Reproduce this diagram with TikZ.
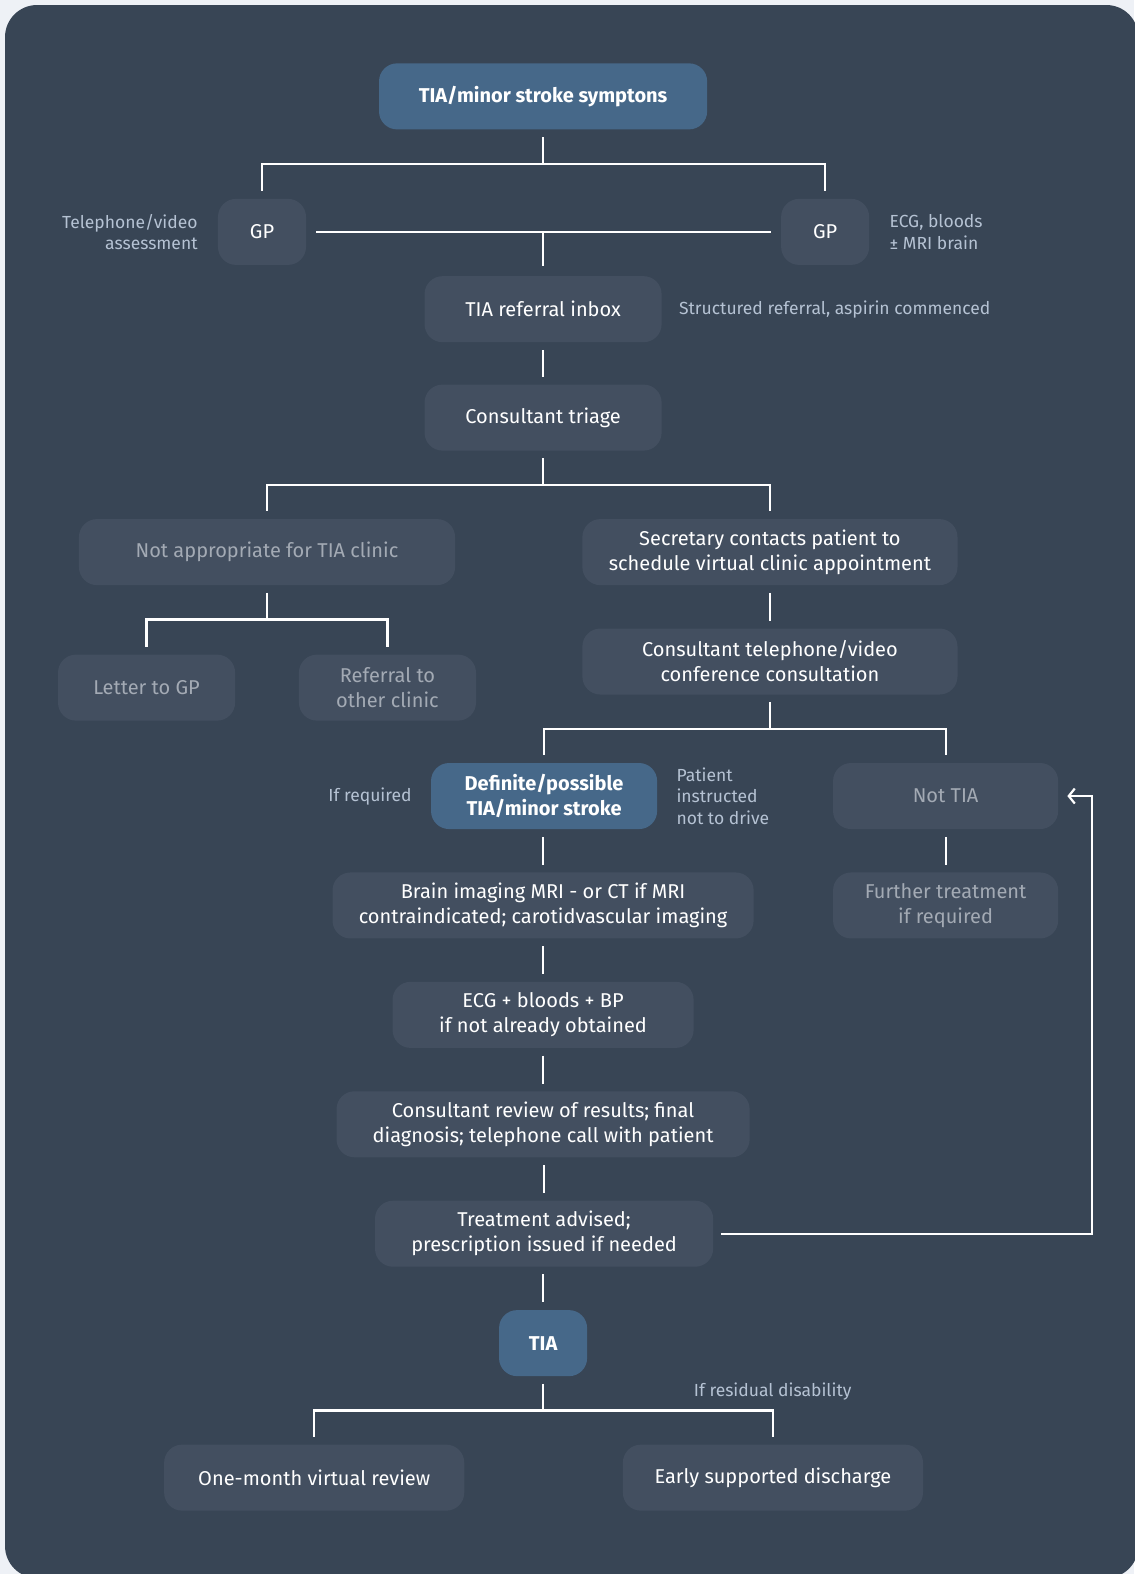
\documentclass[tikz,border=0pt]{standalone}
\usepackage{fontspec}
\setmainfont{Fira Sans}
\usetikzlibrary{arrows.meta,positioning}

\definecolor{pagebg}{HTML}{EEF1F6}
\definecolor{cardbg}{HTML}{384555}
\definecolor{boxbg}{HTML}{434F60}
\definecolor{hibg}{HTML}{466889}
\definecolor{dimtext}{HTML}{A3AAB4}
\definecolor{notetext}{HTML}{B5C2D3}

\tikzset{
  box/.style={fill=boxbg, rounded corners=18pt, text=white, align=center,
    minimum height=66pt, inner sep=0pt, font=\fontsize{20}{25}\selectfont},
  hibox/.style={box, fill=hibg, font=\fontsize{20}{25}\selectfont\bfseries},
  dimbox/.style={box, text=dimtext},
  note/.style={text=notetext, inner sep=0pt, font=\fontsize{17.5}{21.5}\selectfont},
  conn/.style={draw=white, line width=2.2pt, shorten <=7.5pt, shorten >=7.5pt},
}

\begin{document}
\begin{tikzpicture}[x=1.0035pt, y=-1.0035pt]

% Card behind everything
\useasboundingbox (0,0) rectangle (1130,1568);
\fill[pagebg] (0,0) rectangle (1130,1568);
\fill[cardbg, rounded corners=32pt] (5,5) rectangle (1134,1572);

% Boxes, top to bottom
\node[hibox, minimum width=328pt] (sym) at (541,96) {TIA/minor stroke symptons};
\node[box, minimum width=88pt] (gpL) at (261,231) {GP};
\node[box, minimum width=88pt] (gpR) at (822,231) {GP};
\node[box, minimum width=237pt] (inbox) at (541,308) {TIA referral inbox};
\node[box, minimum width=237pt] (triage) at (541,416) {Consultant triage};
\node[dimbox, minimum width=376pt] (notapp) at (266,550) {Not appropriate for TIA clinic};
\node[box, minimum width=375pt] (secr) at (767,550) {Secretary contacts patient to\\schedule virtual clinic appointment};
\node[dimbox, minimum width=177pt] (letter) at (146,685) {Letter to GP};
\node[dimbox, minimum width=177pt] (other) at (386,685) {Referral to\\other clinic};
\node[box, minimum width=375pt] (consult) at (767,659) {Consultant telephone/video\\conference consultation};
\node[hibox, minimum width=226pt] (def) at (542,793) {Definite/possible\\TIA/minor stroke};
\node[dimbox, minimum width=225pt] (nottia) at (942,793) {Not TIA};
\node[box, minimum width=421pt] (brain) at (541,902) {Brain imaging MRI - or CT if MRI\\contraindicated; carotidvascular imaging};
\node[dimbox, minimum width=225pt] (further) at (942,902) {Further treatment\\if required};
\node[box, minimum width=301pt] (ecg) at (541,1011) {ECG + bloods + BP\\if not already obtained};
\node[box, minimum width=413pt] (review) at (541,1120) {Consultant review of results; final\\diagnosis; telephone call with patient};
\node[box, minimum width=338pt] (treat) at (542,1229) {Treatment advised;\\prescription issued if needed};
\node[hibox, minimum width=88pt] (tia) at (541,1338) {TIA};
\node[box, minimum width=300pt] (month) at (313,1472) {One-month virtual review};
\node[box, minimum width=300pt] (esd) at (770,1472) {Early supported discharge};

% Side notes
\node[note, align=right, left=20pt of gpL] {Telephone/video\\assessment};
\node[note, align=left, right=20pt of gpR] {ECG, bloods\\± MRI brain};
\node[note, anchor=west, right=17pt of inbox] {Structured referral, aspirin commenced};
\node[note, left=19pt of def] {If required};
\node[note, align=left, right=19pt of def] {Patient\\instructed\\not to drive};
\node[note, anchor=west] at (691,1386) {If residual disability};

% Splits into two branches
\foreach \p/\c in {sym/gpL, sym/gpR, triage/notapp, triage/secr, notapp/letter,
  notapp/other, consult/def, consult/nottia, tia/month, tia/esd}
  \draw[conn] (\p.south) -- ++(0,34) -| (\c.north);

% Straight links
\foreach \a/\b in {inbox/triage, secr/consult, def/brain, brain/ecg, ecg/review,
  review/treat, treat/tia, nottia/further}
  \draw[conn] (\a.south -| \b.north) -- (\b.north);

% GP to GP, and down to the inbox
\draw[conn, shorten <=10pt, shorten >=10pt] (gpL) -- (gpR);
\draw[conn, shorten <=0pt, shorten >=10pt] (gpL -| inbox) -- (inbox.north);

% Loop back to Not TIA
\draw[conn, shorten >=9pt, -{Straight Barb[length=6pt, width=15pt]}]
  (treat.east) -- ++(377,0) |- (nottia.east);

\end{tikzpicture}
\end{document}
